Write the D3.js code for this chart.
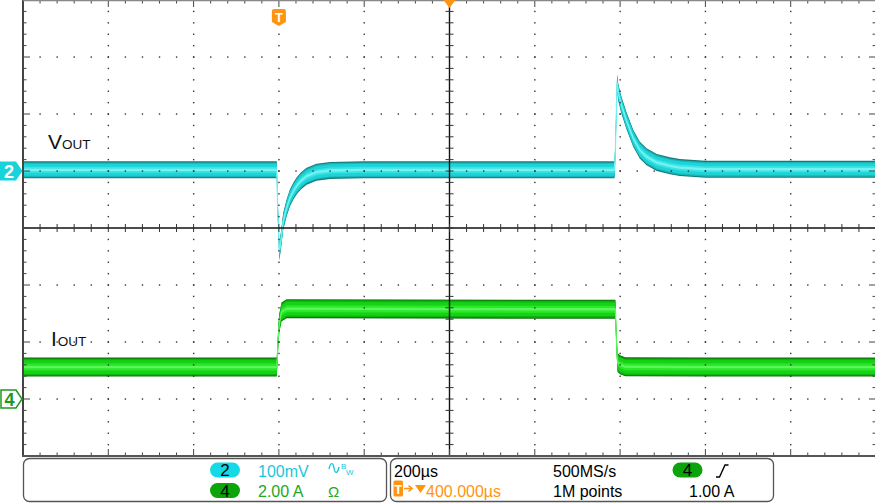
<!DOCTYPE html>
<html><head><meta charset="utf-8">
<script src="https://cdn.jsdelivr.net/npm/d3@7/dist/d3.min.js"></script>
<style>
html,body{margin:0;padding:0;background:#fff;}
svg{display:block;font-family:"Liberation Sans",Arial,sans-serif;}
</style></head><body>
<svg id="c" width="875" height="503"></svg>
<script>
// ---------------- data ----------------
const timeRangeUs = [-600, 1400];          // 200 µs/div, 10 divisions, trigger at t = 0
const divRange = [-4, 4];                  // 8 vertical divisions
const ch2PosDiv = 1, ch2MvPerDiv = 100;    // VOUT channel
const ch4PosDiv = -3, ch4APerDiv = 2;      // IOUT channel

const vTimeUs = [-600, -5, -3, 1, 5, 10, 18, 26, 34, 42, 52, 65, 88, 120, 200, 400, 600, 787,
                 789, 793, 796, 803, 815, 831, 846, 862, 886, 917, 940, 1000, 1100, 1400];
const voutMv  = [2, 2, -60, -142, -121, -89, -65, -47, -35, -26, -17, -9, -2, 1, 2, 2, 2, 2,
                 40, 155, 137, 116, 88, 57, 37, 25, 15, 9, 6, 3, 3, 3];

const iTimeUs = [-600, -5, -1, 1, 6, 18, 300, 600, 789, 791, 794, 800, 812, 1000, 1400];
const ioutA   = [1.12, 1.12, 2.3, 2.67, 3.05, 3.17, 3.16, 3.15, 3.15, 2.2, 1.28, 1.2, 1.13, 1.12, 1.12];

const labelV = ["V", "OUT"];
const labelI = ["I", "OUT"];
const panelRow1 = {ch: "2", scale: "100mV", tb: "200\u00B5s", rate: "500MS/s", trigCh: "4"};
const panelRow2 = {ch: "4", scale: "2.00 A", delay: "400.000\u00B5s", rec: "1M points", trigLevel: "1.00 A"};

// ---------------- scales ----------------
const svg = d3.select("#c");
const L = 23, R = 876, T = 0, B = 456;
const x = d3.scaleLinear().domain(timeRangeUs).range([L, R]);
const yDiv = d3.scaleLinear().domain(divRange).range([B, T]);
const yV = d3.scaleLinear()
  .domain([(divRange[0] - ch2PosDiv) * ch2MvPerDiv, (divRange[1] - ch2PosDiv) * ch2MvPerDiv]).range([B, T]);
const yI = d3.scaleLinear()
  .domain([(divRange[0] - ch4PosDiv) * ch4APerDiv, (divRange[1] - ch4PosDiv) * ch4APerDiv]).range([B, T]);

const divW = (R - L) / 10, divH = (B - T) / 8;

// ---------------- traces (persistence bands) ----------------
function band(times, vals, ys, layers) {
  const pts = times.map((t, i) => [t, vals[i]]);
  const g = svg.append("g");
  layers.forEach(l => {
    const a = d3.area().x(d => x(d[0])).y0(d => ys(d[1]) - l.h).y1(d => ys(d[1]) + l.h);
    g.append("path").attr("d", a(pts)).attr("fill", l.c);
  });
  g.append("path").attr("d", d3.line().x(d => x(d[0])).y(d => ys(d[1]))(pts))
    .attr("fill", "none").attr("stroke", layers[layers.length - 1].c).attr("stroke-width", 1.2);
}
band(vTimeUs, voutMv, yV, [
  {h: 8.5, c: "#16797b"}, {h: 7.4, c: "#18b4b7"}, {h: 6, c: "#1dd3d6"}, {h: 3, c: "#3ae3e5"}, {h: 1.2, c: "#74f2f2"}
]);
band(iTimeUs, ioutA, yI, [
  {h: 9.5, c: "#0a740a"}, {h: 8.4, c: "#0db40d"}, {h: 6.8, c: "#15d215"}, {h: 3.5, c: "#2ae82a"}, {h: 1.2, c: "#5cf55c"}
]);

// ---------------- graticule ----------------
const gg = svg.append("g");
const dotC = "#333";
for (let i = 1; i < 10; i++) {
  if (i === 5) continue;
  const xx = L + i * divW;
  for (let m = 1; m < 40; m++) {
    gg.append("rect").attr("x", xx - 0.65).attr("y", T + m * divH / 5 - 0.65).attr("width", 1.4).attr("height", 1.4).attr("fill", dotC);
  }
}
for (let k = 1; k < 8; k++) {
  if (k === 4) continue;
  const yy = T + k * divH;
  for (let n = 1; n < 50; n++) {
    gg.append("rect").attr("x", L + n * divW / 5 - 0.65).attr("y", yy - 0.65).attr("width", 1.4).attr("height", 1.4).attr("fill", dotC);
  }
}
const cx = L + 5 * divW, cy = T + 4 * divH;
gg.append("line").attr("x1", cx).attr("x2", cx).attr("y1", T).attr("y2", B).attr("stroke", "#111").attr("stroke-width", 1.4);
gg.append("line").attr("x1", L).attr("x2", R).attr("y1", cy).attr("y2", cy).attr("stroke", "#111").attr("stroke-width", 1.4);
for (let n = 1; n < 50; n++) {
  const xx = L + n * divW / 5;
  gg.append("line").attr("x1", xx).attr("x2", xx).attr("y1", cy - 4).attr("y2", cy + 4).attr("stroke", "#333").attr("stroke-width", 1);
  const len = n % 5 === 0 ? 7 : 3.5;
  gg.append("line").attr("x1", xx).attr("x2", xx).attr("y1", T).attr("y2", T + len).attr("stroke", "#444").attr("stroke-width", 1);
  gg.append("line").attr("x1", xx).attr("x2", xx).attr("y1", B).attr("y2", B - len).attr("stroke", "#444").attr("stroke-width", 1);
}
for (let m = 1; m < 40; m++) {
  const yy = T + m * divH / 5;
  gg.append("line").attr("x1", cx - 4).attr("x2", cx + 4).attr("y1", yy).attr("y2", yy).attr("stroke", "#333").attr("stroke-width", 1);
  const len = m % 5 === 0 ? 7 : 3.5;
  gg.append("line").attr("x1", L).attr("x2", L + len).attr("y1", yy).attr("y2", yy).attr("stroke", "#444").attr("stroke-width", 1);
  gg.append("line").attr("x1", R).attr("x2", R - len).attr("y1", yy).attr("y2", yy).attr("stroke", "#444").attr("stroke-width", 1);
}
gg.append("line").attr("x1", L).attr("x2", L).attr("y1", T).attr("y2", B).attr("stroke", "#444").attr("stroke-width", 2);
gg.append("line").attr("x1", L).attr("x2", R).attr("y1", T + 0.5).attr("y2", T + 0.5).attr("stroke", "#888").attr("stroke-width", 1.5);
gg.append("line").attr("x1", L - 1).attr("x2", R).attr("y1", B).attr("y2", B).attr("stroke", "#555").attr("stroke-width", 2);

// ---------------- markers ----------------
const orange = "#ff9410";
svg.append("path").attr("d", `M${cx - 6},0 L${cx + 6},0 L${cx},8 Z`).attr("fill", orange);
const tx = x(0);
svg.append("path").attr("d", `M${tx - 7},11 Q${tx - 7},9 ${tx - 5},9 L${tx + 5},9 Q${tx + 7},9 ${tx + 7},11 L${tx + 7},22 L${tx},26 L${tx - 7},22 Z`).attr("fill", orange);
svg.append("text").attr("x", tx).attr("y", 22).attr("text-anchor", "middle").attr("font-size", 13).attr("font-weight", "bold").attr("fill", "#fff").text("T");
const y2 = yDiv(ch2PosDiv);
svg.append("path").attr("d", `M0,${y2 - 9.5} L16,${y2 - 9.5} L22.5,${y2} L16,${y2 + 9.5} L0,${y2 + 9.5} Z`).attr("fill", "#19d3dc");
svg.append("text").attr("x", 9).attr("y", y2 + 6.5).attr("text-anchor", "middle").attr("font-size", 18).attr("font-weight", "bold").attr("fill", "#fff").text("2");
const y4 = yDiv(ch4PosDiv);
svg.append("path").attr("d", `M1,${y4 - 9} L16,${y4 - 9} L22,${y4} L16,${y4 + 9} L1,${y4 + 9} Z`).attr("fill", "#fff").attr("stroke", "#1c9a1c").attr("stroke-width", 1.5);
svg.append("text").attr("x", 9.5).attr("y", y4 + 6.5).attr("text-anchor", "middle").attr("font-size", 18).attr("font-weight", "bold").attr("fill", "#1c9a1c").text("4");

const tv = svg.append("text").attr("x", 48).attr("y", 149).attr("fill", "#111");
tv.append("tspan").attr("font-size", 21).text(labelV[0]);
tv.append("tspan").attr("font-size", 13.5).text(labelV[1]);
const ti = svg.append("text").attr("x", 51).attr("y", 346).attr("fill", "#111");
ti.append("tspan").attr("font-size", 21).text(labelI[0]);
ti.append("tspan").attr("font-size", 13.5).attr("dx", 1).text(labelI[1]);

// ---------------- bottom panel ----------------
const p = svg.append("g");
p.append("rect").attr("x", 23.5).attr("y", 458.5).attr("width", 363).attr("height", 43).attr("rx", 6).attr("fill", "#fff").attr("stroke", "#555").attr("stroke-width", 1.3);
p.append("rect").attr("x", 390.5).attr("y", 458.5).attr("width", 383).attr("height", 43).attr("rx", 6).attr("fill", "#fff").attr("stroke", "#555").attr("stroke-width", 1.3);
const r1 = 477, r2 = 497, fs = 16;
const cyanT = "#1cc6dc", greenT = "#22a822";
function pill(cxp, cyp, fill, label) {
  p.append("rect").attr("x", cxp - 15).attr("y", cyp - 7.5).attr("width", 30).attr("height", 15).attr("rx", 7.5).attr("fill", fill);
  p.append("text").attr("x", cxp).attr("y", cyp + 6).attr("text-anchor", "middle").attr("font-size", fs + 1).attr("fill", "#000").text(label);
}
pill(225, 470, "#16d9e6", panelRow1.ch);
pill(225, 490.5, "#0ba40b", panelRow2.ch);
p.append("text").attr("x", 258).attr("y", r1).attr("font-size", fs).attr("fill", cyanT).text(panelRow1.scale);
p.append("text").attr("x", 258).attr("y", r2).attr("font-size", fs).attr("fill", greenT).text(panelRow2.scale);
p.append("path").attr("d", "M329,469 C330.5,462 333,462 334,468 C335,474 337.5,474 339,467").attr("fill", "none").attr("stroke", cyanT).attr("stroke-width", 1.4);
p.append("text").attr("x", 341).attr("y", 469).attr("font-size", 8).attr("fill", cyanT).text("B");
p.append("text").attr("x", 346).attr("y", 475).attr("font-size", 8).attr("fill", cyanT).text("W");
p.append("text").attr("x", 328).attr("y", r2).attr("font-size", fs - 1).attr("fill", greenT).text("\u03A9");

p.append("text").attr("x", 394).attr("y", r1).attr("font-size", fs).attr("fill", "#000").text(panelRow1.tb);
p.append("text").attr("x", 553).attr("y", r1).attr("font-size", fs).attr("fill", "#000").text(panelRow1.rate);
pill(687.5, 470, "#0ba40b", panelRow1.trigCh);
p.append("path").attr("d", "M716,477 L719.5,477 L725,465 L728.5,465").attr("fill", "none").attr("stroke", "#000").attr("stroke-width", 1.4);
p.append("rect").attr("x", 393.5).attr("y", 480.5).attr("width", 9.5).attr("height", 16).attr("rx", 1.5).attr("fill", orange);
p.append("text").attr("x", 398.3).attr("y", 494).attr("text-anchor", "middle").attr("font-size", 13).attr("font-weight", "bold").attr("fill", "#fff").text("T");
p.append("path").attr("d", "M404,488.5 L411,488.5 M408.5,485.5 L412,488.5 L408.5,491.5").attr("fill", "none").attr("stroke", orange).attr("stroke-width", 1.6);
p.append("path").attr("d", "M415,485 L426,485 L420.5,493 Z").attr("fill", orange);
p.append("text").attr("x", 426).attr("y", r2).attr("font-size", fs).attr("fill", orange).text(panelRow2.delay);
p.append("text").attr("x", 553).attr("y", r2).attr("font-size", fs).attr("fill", "#000").text(panelRow2.rec);
p.append("text").attr("x", 689).attr("y", r2).attr("font-size", fs).attr("fill", "#000").text(panelRow2.trigLevel);
</script>
</body></html>
